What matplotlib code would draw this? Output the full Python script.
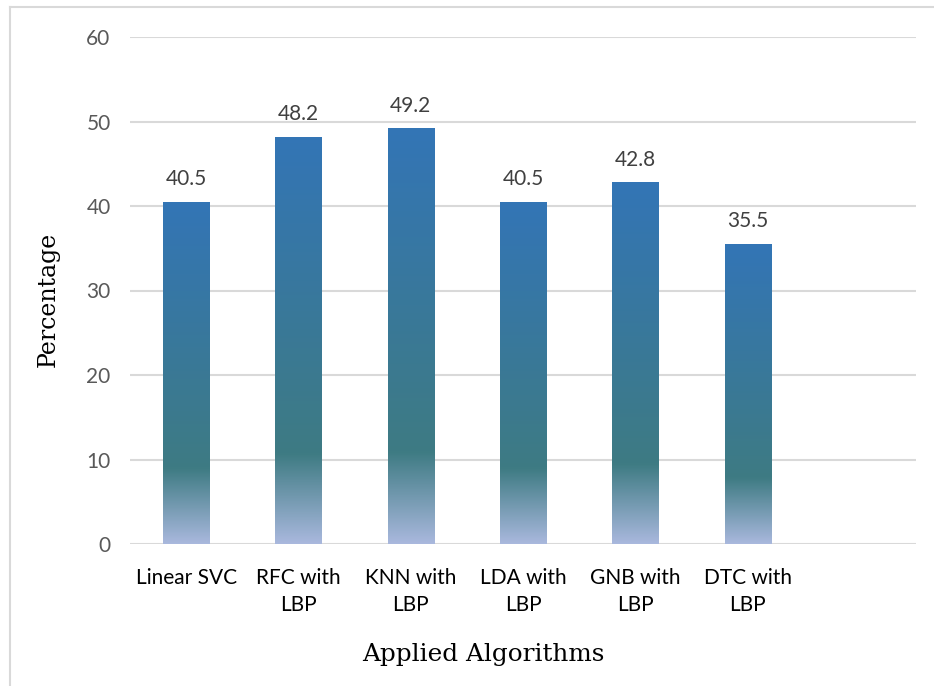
import numpy as np
import matplotlib.pyplot as plt
from matplotlib.colors import LinearSegmentedColormap
from matplotlib.lines import Line2D

# data
algorithms = ["Linear SVC", "RFC with\nLBP", "KNN with\nLBP", "LDA with\nLBP",
              "GNB with\nLBP", "DTC with\nLBP"]
percentage = [40.5, 48.2, 49.2, 40.5, 42.8, 35.5]
n_slots = 7  # the chart leaves one empty category slot on the right

# gradient: light lavender at bottom, teal ~22% up, blue at the top
grad = LinearSegmentedColormap.from_list(
    "bar_grad", [(0.0, "#a9b8dd"), (0.22, "#3e7b83"), (1.0, "#3375b6")])

fig = plt.figure(figsize=(9.34, 6.86), dpi=100)
ax = fig.add_axes([130 / 934, 1 - 544 / 686, 786 / 934, 507 / 686])

x = np.arange(len(algorithms))
width = 0.41
bars = ax.bar(x, percentage, width, color="none", zorder=3)
g = np.linspace(0, 1, 256).reshape(-1, 1)
for b, v in zip(bars, percentage):
    x0 = b.get_x()
    im = ax.imshow(g, cmap=grad, origin="lower", aspect="auto",
                   extent=[x0, x0 + width, 0, v], zorder=3)
    im.set_clip_path(b)
    ax.text(b.get_x() + width / 2, v + 1.5, f"{v}", ha="center", va="bottom",
            fontsize=15, color="#404040", family="Lato")

ax.set_xlim(-0.5, n_slots - 0.5)
ax.set_ylim(0, 60)
ax.set_yticks(range(0, 61, 10))
ax.set_xticks(x)
ax.set_xticklabels(algorithms, fontsize=15, family="Lato", color="#000000",
                   linespacing=1.45)
ax.tick_params(axis="y", labelsize=15, labelcolor="#595959", length=0, pad=14)
ax.tick_params(axis="x", length=0, pad=17)
for lbl in ax.get_yticklabels():
    lbl.set_family("Lato")
ax.grid(axis="y", color="#d9d9d9", linewidth=1.5, zorder=0)
for s in ax.spines.values():
    s.set_visible(False)

fig.text(48 / 934, 1 - 299 / 686, "Percentage", rotation=90, ha="center",
         va="center", fontsize=17, family="DejaVu Serif", color="#000000")
fig.text(483 / 934, 1 - 655 / 686, "Applied Algorithms", ha="center",
         va="center", fontsize=17.8, family="DejaVu Serif", color="#000000")

# thin outer frame (left and top edges visible)
fig.add_artist(Line2D([10 / 934, 10 / 934], [0, 1 - 7 / 686], color="#d9d9d9", lw=1.5))
fig.add_artist(Line2D([10 / 934, 1], [1 - 7 / 686, 1 - 7 / 686], color="#d9d9d9", lw=1.5))

fig.savefig("out.png", dpi=100)
